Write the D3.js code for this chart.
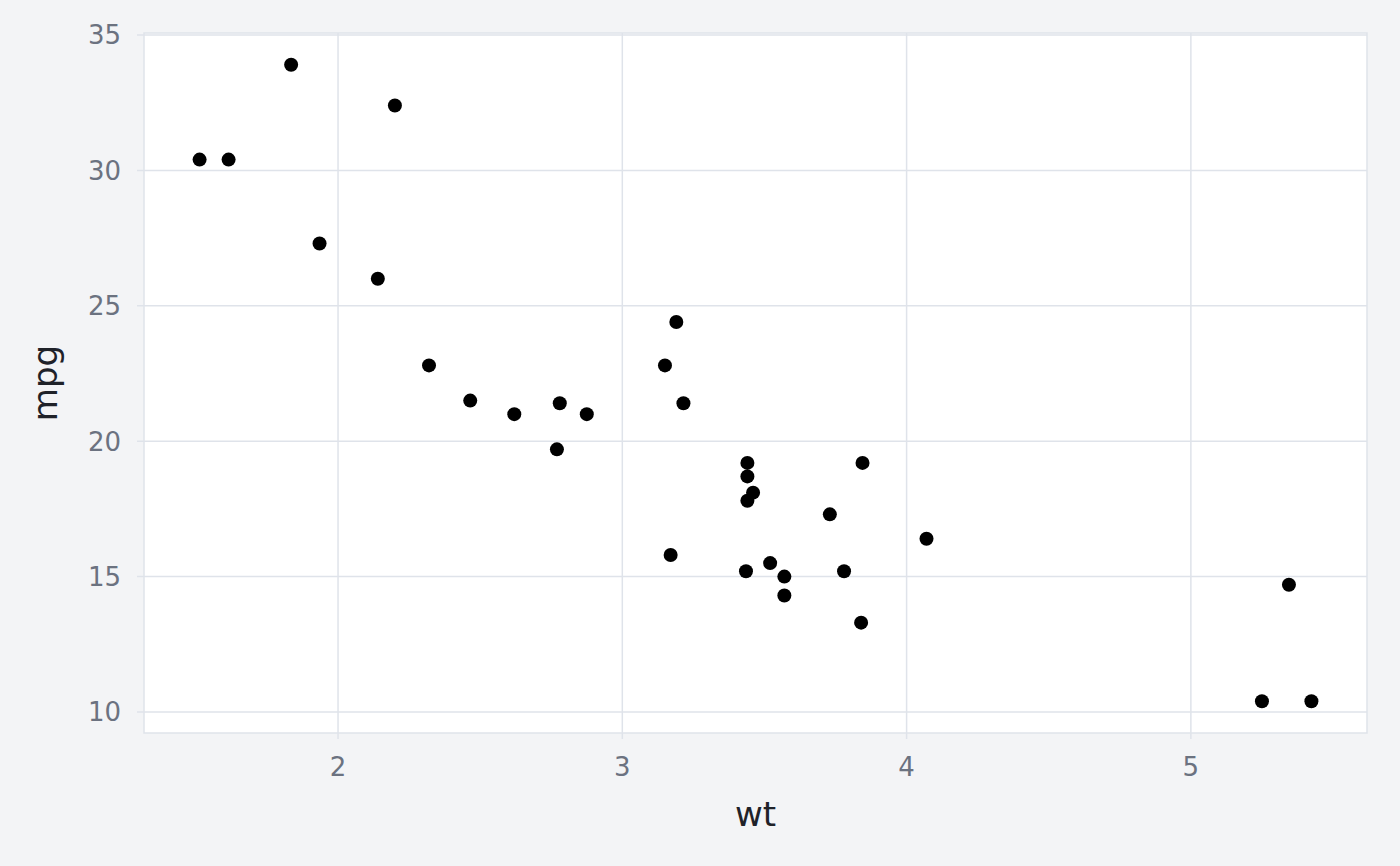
<!DOCTYPE html>
<html><head><meta charset="utf-8">
<script src="https://cdn.jsdelivr.net/npm/d3@7/dist/d3.min.js"></script>
<style>html,body{margin:0;padding:0;background:#f3f4f6;}svg{display:block;font-family:"DejaVu Sans",sans-serif;}</style>
</head><body>
<svg id="c" width="1400" height="866"></svg>
<script>
const wt = [2.620,2.875,2.320,3.215,3.440,3.460,3.570,3.190,3.150,3.440,3.440,4.070,3.730,3.780,5.250,5.424,5.345,2.200,1.615,1.835,2.465,3.520,3.435,3.840,3.845,1.935,2.140,1.513,3.170,2.770,3.570,2.780];
const mpg = [21.0,21.0,22.8,21.4,18.7,18.1,14.3,24.4,22.8,19.2,17.8,16.4,17.3,15.2,10.4,10.4,14.7,32.4,30.4,33.9,21.5,15.5,15.2,13.3,19.2,27.3,26.0,30.4,15.8,19.7,15.0,21.4];
const xTicks = [2,3,4,5];
const yTicks = [10,15,20,25,30,35];

const svg = d3.select("#c");
const L=144, R=1367, T=33, B=733;
const xr = d3.extent(wt), yr = d3.extent(mpg);
const xe = (xr[1]-xr[0])*0.05, ye=(yr[1]-yr[0])*0.05;
const x = d3.scaleLinear().domain([xr[0]-xe, xr[1]+xe]).range([L,R]);
const y = d3.scaleLinear().domain([yr[0]-ye, yr[1]+ye]).range([B,T]);
const grid = "#dfe3ea";

svg.append("rect").attr("x",L).attr("y",T).attr("width",R-L).attr("height",B-T).attr("fill","#fff");
svg.append("g").selectAll("line").data(xTicks).join("line")
  .attr("x1",d=>x(d)).attr("x2",d=>x(d)).attr("y1",T).attr("y2",B+6).attr("stroke",grid).attr("stroke-width",1.5);
svg.append("g").selectAll("line").data(yTicks).join("line")
  .attr("y1",d=>y(d)).attr("y2",d=>y(d)).attr("x1",L-7).attr("x2",R).attr("stroke",grid).attr("stroke-width",1.5);
svg.append("rect").attr("x",L).attr("y",T).attr("width",R-L).attr("height",B-T).attr("fill","none").attr("stroke",grid).attr("stroke-width",1.5);

svg.append("g").selectAll("text").data(xTicks).join("text")
  .attr("x",d=>x(d)).attr("y",776).attr("text-anchor","middle").attr("fill","#6b7280").attr("font-size",26).text(d=>d);
svg.append("g").selectAll("text").data(yTicks).join("text")
  .attr("x",121).attr("y",d=>y(d)).attr("dy","0.36em").attr("text-anchor","end").attr("fill","#6b7280").attr("font-size",26).text(d=>d);

svg.append("text").attr("x",(L+R)/2).attr("y",826).attr("text-anchor","middle").attr("fill","#1f2229").attr("font-size",34).text("wt");
svg.append("text").attr("transform",`translate(57,${(T+B)/2}) rotate(-90)`).attr("text-anchor","middle").attr("fill","#1f2229").attr("font-size",34).text("mpg");

svg.append("g").selectAll("circle").data(wt.map((w,i)=>[w,mpg[i]])).join("circle")
  .attr("cx",d=>x(d[0])).attr("cy",d=>y(d[1])).attr("r",7).attr("fill","#000");
</script>
</body></html>
